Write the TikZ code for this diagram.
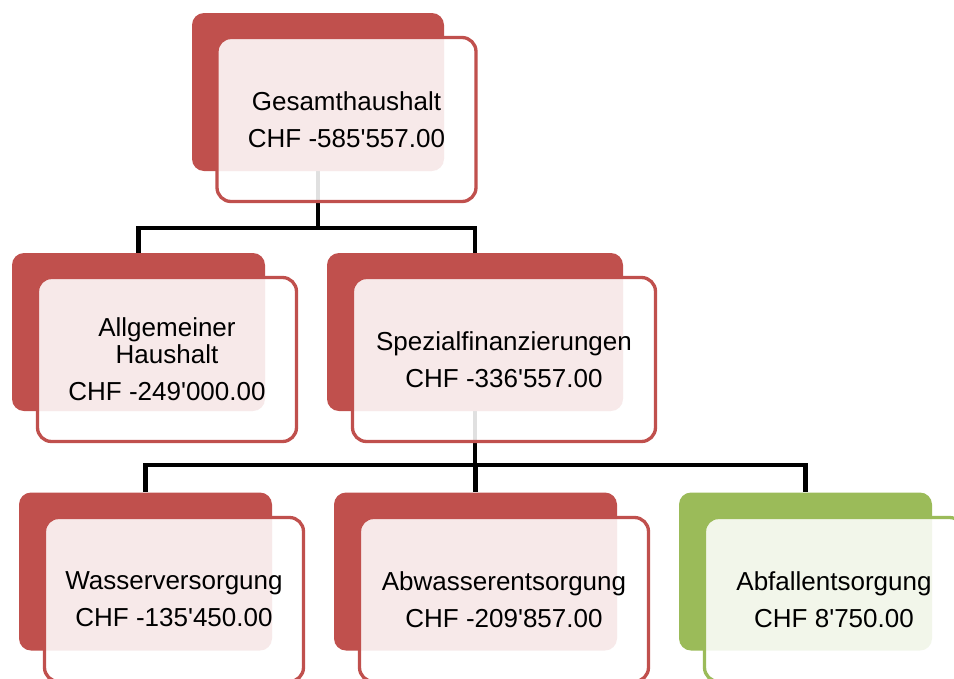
\documentclass[tikz,border=0pt]{standalone}
\usepackage{fontspec}
\setmainfont{Liberation Sans}[Ligatures=TeXOff]
\usetikzlibrary{calc}
\definecolor{boxred}{HTML}{C0504D}
\definecolor{boxgreen}{HTML}{9BBB59}
\pgfdeclarelayer{background}
\pgfsetlayers{background,main}
\tikzset{
 backbox/.style={fill=#1,rounded corners=12pt,minimum height=158pt,inner sep=0pt},
 frontbox/.style={draw=#1,line width=3.3pt,fill=white,fill opacity=.88,text opacity=1,
  rounded corners=14pt,minimum height=164pt,align=center,font=\fontsize{26}{27}\selectfont},
 link/.style={line width=4.5pt}
}

\begin{document}
\begin{tikzpicture}[x=1pt,y=-1pt]
\useasboundingbox (0,0) rectangle (954,678);
% level 1
\node[backbox=boxred,minimum width=252pt] (gesB) at (318,92) {};
\node[frontbox=boxred,minimum width=259pt] (ges) at ($(gesB)+(28.5,27.5)$) {Gesamthaushalt\\[10pt]CHF -585'557.00};
% level 2
\node[backbox=boxred,minimum width=253pt] (allgB) at (138.5,332) {};
\node[frontbox=boxred,minimum width=259pt] (allg) at ($(allgB)+(28.5,27.5)$) {Allgemeiner\\Haushalt\\[10pt]CHF -249'000.00};
\node[backbox=boxred,minimum width=296pt] (spezB) at (475,332) {};
\node[frontbox=boxred,minimum width=303pt] (spez) at ($(spezB)+(29,27.5)$) {Spezialfinanzierungen\\[10pt]CHF -336'557.00};
% level 3
\node[backbox=boxred,minimum width=253pt] (wasB) at (145.5,571.5) {};
\node[frontbox=boxred,minimum width=259pt] (was) at ($(wasB)+(28.5,28)$) {Wasserversorgung\\[10pt]CHF -135'450.00};
\node[backbox=boxred,minimum width=283pt] (abwB) at (475.5,571.5) {};
\node[frontbox=boxred,minimum width=289pt] (abw) at ($(abwB)+(28.5,28)$) {Abwasserentsorgung\\[10pt]CHF -209'857.00};
\node[backbox=boxgreen,minimum width=253pt] (abfB) at (805.5,571.5) {};
\node[frontbox=boxgreen,minimum width=259pt] (abf) at ($(abfB)+(28.5,28)$) {Abfallentsorgung\\[10pt]CHF 8'750.00};
% connectors
\begin{pgfonlayer}{background}
\draw[link] (gesB.south) -- ++(0,57) -| (allgB.north);
\draw[link] (gesB.south) -- ++(0,57) -| (spezB.north);
\draw[link] (spezB.south) -- ++(0,54) -| (wasB.north);
\draw[link] (spezB.south) -- ++(0,54) -| (abwB.north);
\draw[link] (spezB.south) -- ++(0,54) -| (abfB.north);
\end{pgfonlayer}
\end{tikzpicture}
\end{document}
